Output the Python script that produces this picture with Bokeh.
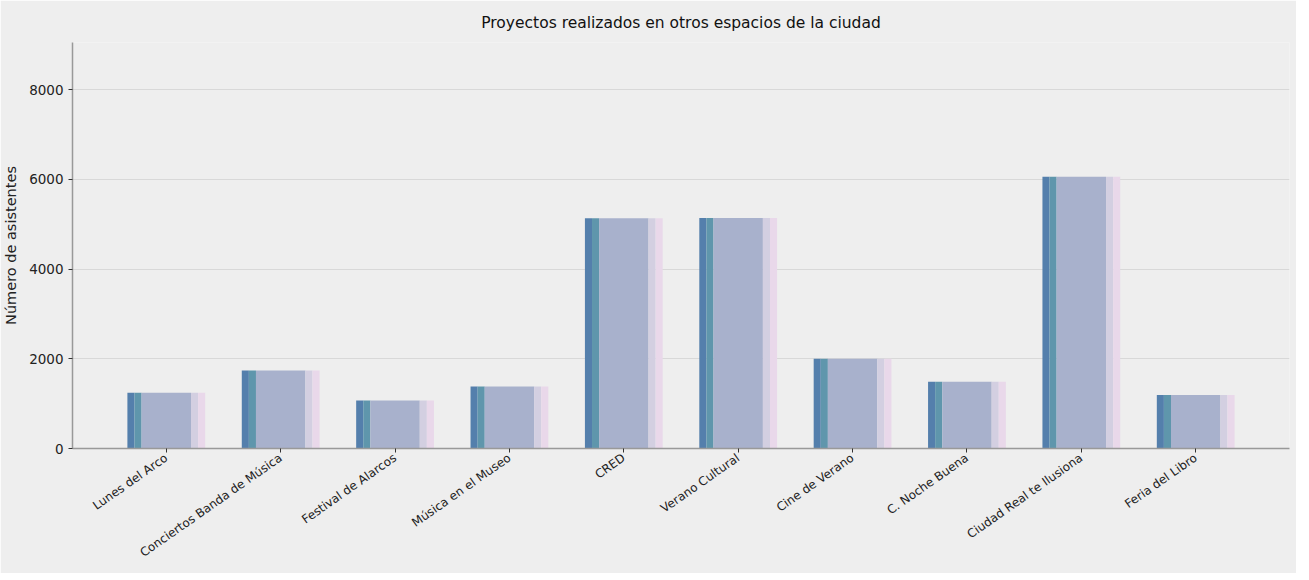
import math
from bokeh.plotting import figure
from bokeh.models import FactorRange, FixedTicker, ColumnDataSource
from bokeh.transform import dodge
from bokeh.embed import file_html
from bokeh.resources import INLINE

categories = ["Lunes del Arco", "Conciertos Banda de Música", "Festival de Alarcos",
              "Música en el Museo", "CRED", "Verano Cultural", "Cine de Verano",
              "C. Noche Buena", "Ciudad Real te Ilusiona", "Feria del Libro"]
asistentes = [1240, 1740, 1070, 1380, 5130, 5140, 2000, 1490, 6060, 1195]
y_ticks = [0, 2000, 4000, 6000, 8000]

title = "Proyectos realizados en otros espacios de la ciudad"
y_label = "Número de asistentes"

BG = "#eeeeee"
FONT = "DejaVu Sans"

src = ColumnDataSource(dict(cat=categories, val=asistentes))

p = figure(x_range=FactorRange(*categories, range_padding=0.32, range_padding_units="absolute"),
           y_range=(0, 9050), frame_width=1217, frame_height=406,
           output_backend="svg", toolbar_location=None,
           background_fill_color=BG, border_fill_color=BG,
           min_border_left=69, min_border_right=7, min_border_top=41, min_border_bottom=125)
p.outline_line_color = None

p.title.text = title
p.title.align = "center"
p.title.text_font = FONT
p.title.text_font_size = "15.5px"
p.title.text_font_style = "normal"
p.title.text_color = "#111111"
p.title.standoff = 22

# layered bar segments: (offset, width, color)
segments = [(-0.309, 0.062, "#547fac"),
            (-0.247, 0.062, "#5f96ac"),
            (0.0, 0.432, "#a8b1cc"),
            (0.247, 0.062, "#d3cfe1"),
            (0.309, 0.062, "#e9d8ea")]
for off, w, c in segments:
    p.vbar(x=dodge("cat", off, range=p.x_range), top="val", bottom=0, width=w,
           source=src, fill_color=c, line_color=None)

p.xgrid.grid_line_color = None
p.ygrid.grid_line_color = "#d8d8d8"
p.ygrid.grid_line_width = 1
p.yaxis.ticker = FixedTicker(ticks=y_ticks)

for ax in (p.xaxis[0], p.yaxis[0]):
    ax.axis_line_color = "#999999"
    ax.axis_line_width = 1.5
    ax.major_tick_line_color = "#333333"
    ax.major_tick_in = 0
    ax.major_tick_out = 4
    ax.minor_tick_line_color = None
    ax.major_label_text_font = FONT
    ax.major_label_text_color = "#222222"

p.yaxis.major_label_text_font_size = "13.5px"
p.xaxis.major_label_text_font_size = "12px"
p.yaxis.major_label_standoff = 5
p.yaxis.axis_label = y_label
p.yaxis.axis_label_text_font = FONT
p.yaxis.axis_label_text_font_size = "14.5px"
p.yaxis.axis_label_text_font_style = "normal"
p.yaxis.axis_label_text_color = "#222222"
p.yaxis.axis_label_standoff = 7

p.xaxis.major_label_orientation = math.radians(35)
p.xaxis.major_label_standoff = 4

open("out.html", "w").write(file_html(p, INLINE))
